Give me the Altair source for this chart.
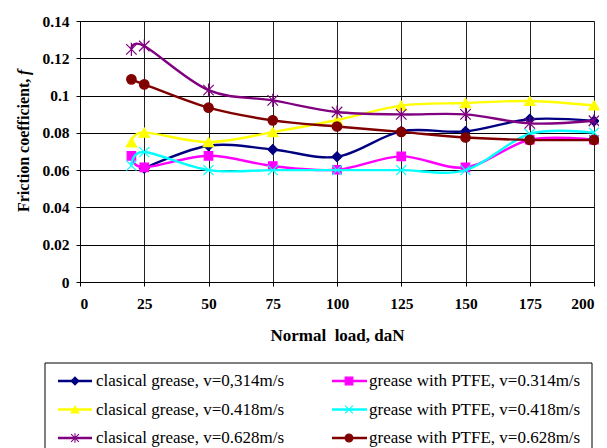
import altair as alt
import pandas as pd

FONT = "'Liberation Serif', 'Times New Roman', Times, serif"

# ---- data ----
loads = [20, 25, 50, 75, 100, 125, 150, 175, 200]

series_names = [
    "clasical grease, v=0,314m/s",
    "grease with PTFE, v=0.314m/s",
    "clasical grease, v=0.418m/s",
    "grease with PTFE, v=0.418m/s",
    "clasical grease, v=0.628m/s",
    "grease with PTFE, v=0.628m/s",
]
classic_0314 = [None, 0.0610, 0.0731, 0.0711, 0.0672, 0.0808, 0.0808, 0.0873, 0.0864]
ptfe_0314 = [0.0677, 0.0615, 0.0677, 0.0622, 0.0602, 0.0674, 0.0615, 0.0763, 0.0763]
classic_0418 = [0.0749, 0.0801, 0.0751, 0.0804, 0.0869, 0.0946, 0.0960, 0.0971, 0.0947]
ptfe_0418 = [0.0624, 0.0697, 0.0600, 0.0600, 0.0600, 0.0600, 0.0600, 0.0794, 0.0801]
classic_0628 = [0.1248, 0.1266, 0.1029, 0.0974, 0.0912, 0.0899, 0.0899, 0.0851, 0.0865]
ptfe_0628 = [0.1087, 0.1060, 0.0935, 0.0867, 0.0834, 0.0805, 0.0775, 0.0762, 0.0762]

series_values = [classic_0314, ptfe_0314, classic_0418, ptfe_0418, classic_0628, ptfe_0628]
colors = ["#000080", "#FF00FF", "#FFFF00", "#00FFFF", "#800080", "#800000"]
shapes = [
    "diamond",
    "square",
    "triangle-up",
    "M-1,-1L1,1M1,-1L-1,1",
    "M-1,-1L1,1M1,-1L-1,1M0,-1.25L0,1.25",
    "circle",
]
marker_sizes = [95, 72, 110, 100, 110, 90]

y_ticks = [0, 0.02, 0.04, 0.06, 0.08, 0.10, 0.12, 0.14]
x_ticks = [0, 25, 50, 75, 100, 125, 150, 175, 200]

# ---- tables ----
rows = []
for name, vals in zip(series_names, series_values):
    for x, v in zip(loads, vals):
        if v is not None:
            rows.append({"series": name, "load": x, "f": v})
df = pd.DataFrame(rows)

legend_df = pd.DataFrame({"series": series_names, "idx": list(range(len(series_names)))})
one = pd.DataFrame({"a": [0]})

color_scale = alt.Scale(domain=series_names, range=colors)
shape_scale = alt.Scale(domain=series_names, range=shapes)

W, H = 514, 261

x_enc = alt.X(
    "load:Q",
    scale=alt.Scale(domain=[0, 200], nice=False, zero=False),
    axis=alt.Axis(
        values=x_ticks,
        title="Normal\u00a0 load, daN",
        titleFont=FONT,
        titleFontSize=17,
        titleFontWeight="bold",
        titleBaseline="alphabetic",
        titleY=58,
        labelPadding=10,
        gridColor="#222222",
    ),
)
y_enc = alt.Y(
    "f:Q",
    scale=alt.Scale(domain=[0, 0.14], nice=False),
    axis=alt.Axis(values=y_ticks, format=".2~f", title=None, labelPadding=7),
)

layers = []
for i, name in enumerate(series_names):
    base = alt.Chart(df).transform_filter(alt.datum.series == name)
    line = base.mark_line(interpolate="cardinal", strokeWidth=2.4).encode(
        x=x_enc,
        y=y_enc,
        color=alt.Color("series:N", scale=color_scale, legend=None),
    )
    pts = base.mark_point(filled=True, strokeWidth=1.2, opacity=1, size=marker_sizes[i]).encode(
        x=x_enc,
        y=y_enc,
        fill=alt.Fill("series:N", scale=color_scale, legend=None),
        stroke=alt.Stroke("series:N", scale=color_scale, legend=None),
        shape=alt.Shape("series:N", scale=shape_scale, legend=None),
    )
    layers += [line, pts]

# ---- y axis title with italic f ----
ytitle_a = alt.Chart(one).mark_text(
    text="Friction coefficient,", angle=270, align="left", baseline="middle",
    font=FONT, fontSize=16, fontWeight="bold", color="black",
).encode(x=alt.value(-56), y=alt.value(191))
ytitle_b = alt.Chart(one).mark_text(
    text="f", angle=270, align="left", baseline="middle",
    font=FONT, fontSize=16, fontWeight="bold", fontStyle="italic", color="black",
).encode(x=alt.value(-56), y=alt.value(54))

# ---- legend box below the plot ----
legend_box = alt.Chart(one).mark_rect(fillOpacity=0, stroke="black", strokeWidth=1).encode(
    x=alt.value(-35), x2=alt.value(512), y=alt.value(342), y2=alt.value(470)
)
leg = alt.Chart(legend_df).transform_calculate(
    col="datum.idx % 2",
    row="floor(datum.idx / 2)",
).transform_calculate(
    lx1="-22 + datum.col * 274",
    lx2="12 + datum.col * 275",
    mx="-5 + datum.col * 274",
    tx="16 + datum.col * 273",
    ly="360 + datum.row * 28.5",
)
leg_lines = leg.mark_rule(strokeWidth=2.4).encode(
    x=alt.X("lx1:Q", scale=None),
    x2="lx2:Q",
    y=alt.Y("ly:Q", scale=None),
    color=alt.Color("series:N", scale=color_scale, legend=None),
)
leg_pts = leg.mark_point(filled=True, strokeWidth=1.1, opacity=1, size=60).encode(
    x=alt.X("mx:Q", scale=None),
    y=alt.Y("ly:Q", scale=None),
    fill=alt.Fill("series:N", scale=color_scale, legend=None),
    stroke=alt.Stroke("series:N", scale=color_scale, legend=None),
    shape=alt.Shape("series:N", scale=shape_scale, legend=None),
)
leg_text = leg.mark_text(align="left", baseline="middle", font=FONT, fontSize=17, color="black").encode(
    x=alt.X("tx:Q", scale=None),
    y=alt.Y("ly:Q", scale=None),
    text="series:N",
)

chart = alt.layer(
    *layers, ytitle_a, ytitle_b, legend_box, leg_lines, leg_pts, leg_text
).properties(
    width=W,
    height=H,
    autosize=alt.AutoSizeParams(type="none"),
    padding={"left": 72, "top": 13, "right": 5, "bottom": 166},
    background="white",
).configure_view(
    stroke=None
).configure_axis(
    labelFont=FONT,
    labelFontSize=15.5,
    labelFontWeight="bold",
    labelColor="black",
    domainColor="black",
    domainWidth=1,
    tickColor="black",
    tickSize=4,
    gridColor="black",
    gridOpacity=1,
    gridWidth=1,
)

chart.save("out.html", embed_options={"renderer": "svg", "actions": False})
